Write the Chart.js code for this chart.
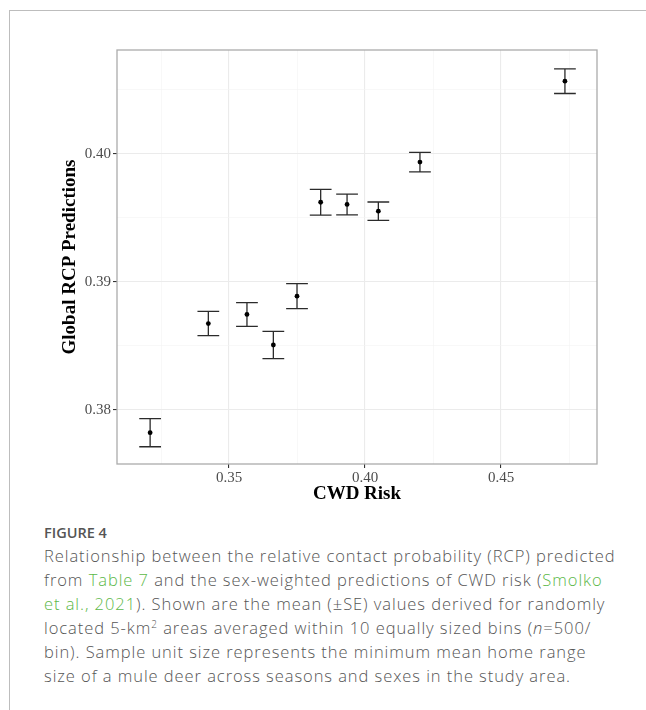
<!DOCTYPE html>
<html>
<head>
<meta charset="utf-8">
<script src="https://cdn.jsdelivr.net/npm/chart.js@4.4.0/dist/chart.umd.min.js"></script>
<style>
  html, body { margin: 0; padding: 0; background: #fff; }
  body { width: 646px; height: 710px; position: relative; overflow: hidden; }
  .frame { position: absolute; left: 9px; top: 10px; width: 650px; height: 710px;
           border-top: 1.5px solid #bdbdbd; border-left: 1.5px solid #bdbdbd; }
  .plot { position: absolute; left: 0; top: 0; }
  .fig { position: absolute; left: 44px; top: 523px; font-family: "Open Sans", sans-serif;
         font-size: 14.5px; font-weight: 600; color: #555; line-height: 20px; }
  .caption { position: absolute; left: 44px; top: 544px; width: 600px; font-family: "Open Sans", sans-serif;
             font-size: 16.5px; font-weight: 300; letter-spacing: 0.94px; color: #555; line-height: 24px; white-space: nowrap; }
  .caption a { color: #5cb848; text-decoration: none; }
</style>
</head>
<body>
<div class="frame"></div>
<canvas id="chart" class="plot" width="646" height="520"></canvas>
<div class="fig">FIGURE 4</div>
<div class="caption">
Relationship between the relative contact probability (RCP) predicted<br>
from <a>Table 7</a> and the sex-weighted predictions of CWD risk (<a>Smolko</a><br>
<a>et al., 2021</a>). Shown are the mean (±SE) values derived for randomly<br>
located 5-km<sup style="font-size:10px;line-height:0">2</sup> areas averaged within 10 equally sized bins (<i>n</i>=500/<br>
bin). Sample unit size represents the minimum mean home range<br>
size of a mule deer across seasons and sexes in the study area.
</div>
<script>
// binned CWD risk (x) vs mean global RCP prediction (y) with SE
const cwdRisk = [0.3210, 0.3424, 0.3566, 0.3663, 0.3750, 0.3837, 0.3934, 0.4049, 0.4202, 0.4735];
const rcpMean = [0.37820, 0.38673, 0.38744, 0.38505, 0.38887, 0.39621, 0.39604, 0.39551, 0.39935, 0.40567];
const rcpSE   = [0.00110, 0.00095, 0.00093, 0.00107, 0.00098, 0.00100, 0.00081, 0.00072, 0.00076, 0.00096];

const xMajor = [0.35, 0.40, 0.45];
const xMinor = [0.325, 0.375, 0.425, 0.475];
const yMajor = [0.38, 0.39, 0.40];
const yMinor = [0.385, 0.395, 0.405];
const xLimits = [0.30882, 0.48529];
const yLimits = [0.37575, 0.40811];
const capWidth = 0.008; // errorbar width, in x units

const isMajor = (list, v) => list.some(m => Math.abs(m - v) < 1e-9);

const errorBars = {
  id: 'errorBars',
  beforeDatasetsDraw(chart) {
    const {ctx, scales: {x, y}} = chart;
    ctx.save();
    ctx.strokeStyle = '#2b2b2b';
    ctx.lineWidth = 1.3;
    cwdRisk.forEach((v, i) => {
      const px = x.getPixelForValue(v);
      const x0 = x.getPixelForValue(v - capWidth / 2);
      const x1 = x.getPixelForValue(v + capWidth / 2);
      const top = y.getPixelForValue(rcpMean[i] + rcpSE[i]);
      const bot = y.getPixelForValue(rcpMean[i] - rcpSE[i]);
      ctx.beginPath();
      ctx.moveTo(px, top); ctx.lineTo(px, bot);
      ctx.moveTo(x0, top); ctx.lineTo(x1, top);
      ctx.moveTo(x0, bot); ctx.lineTo(x1, bot);
      ctx.stroke();
    });
    ctx.restore();
  },
  afterDraw(chart) {
    const {ctx, chartArea: a} = chart;
    ctx.save();
    ctx.strokeStyle = '#ababab';
    ctx.lineWidth = 1.3;
    ctx.strokeRect(a.left, a.top, a.right - a.left, a.bottom - a.top);
    ctx.restore();
  }
};

function gridOpts(major) {
  return {
    drawTicks: true,
    tickLength: 4,
    color: c => c.tick && isMajor(major, c.tick.value) ? '#ebebeb' : '#f4f4f4',
    lineWidth: c => c.tick && isMajor(major, c.tick.value) ? 1.1 : 0.6,
    tickColor: c => c.tick && isMajor(major, c.tick.value) ? '#333' : 'rgba(0,0,0,0)',
    tickWidth: 1.1
  };
}

const tickFont = { family: 'Liberation Serif', size: 15 };
const titleFont = { family: 'Liberation Serif', size: 19, weight: 'bold', lineHeight: 1.2 };

new Chart(document.getElementById('chart'), {
  type: 'scatter',
  data: {
    datasets: [{
      data: cwdRisk.map((v, i) => ({ x: v, y: rcpMean[i] })),
      backgroundColor: '#000',
      borderColor: '#000',
      pointRadius: 2.4,
      borderWidth: 0
    }]
  },
  options: {
    responsive: false,
    animation: false,
    devicePixelRatio: 1,
    layout: { padding: { top: 50, right: 49, left: 0, bottom: 0 } },
    plugins: { legend: { display: false }, tooltip: { enabled: false } },
    scales: {
      x: {
        type: 'linear',
        min: xLimits[0], max: xLimits[1],
        afterBuildTicks: s => { s.ticks = xMajor.concat(xMinor).map(v => ({ value: v })); },
        afterFit: s => { s.height = 56; },
        border: { display: false },
        grid: gridOpts(xMajor),
        ticks: {
          autoSkip: false, maxRotation: 0, padding: 1,
          font: tickFont, color: '#4d4d4d',
          callback: v => isMajor(xMajor, v) ? v.toFixed(2) : ''
        },
        title: { display: true, text: 'CWD Risk', color: '#000', font: titleFont, padding: { top: 0, bottom: 15 } }
      },
      y: {
        type: 'linear',
        min: yLimits[0], max: yLimits[1],
        afterBuildTicks: s => { s.ticks = yMajor.concat(yMinor).map(v => ({ value: v })); },
        afterFit: s => { s.width = 117; },
        border: { display: false },
        grid: gridOpts(yMajor),
        ticks: {
          autoSkip: false, padding: 2,
          font: tickFont, color: '#4d4d4d',
          callback: v => isMajor(yMajor, v) ? v.toFixed(2) : ''
        },
        title: { display: true, text: 'Global RCP Predictions', color: '#000', font: titleFont, padding: { top: 59, bottom: 0 } }
      }
    }
  },
  plugins: [errorBars]
});
</script>
</body>
</html>
